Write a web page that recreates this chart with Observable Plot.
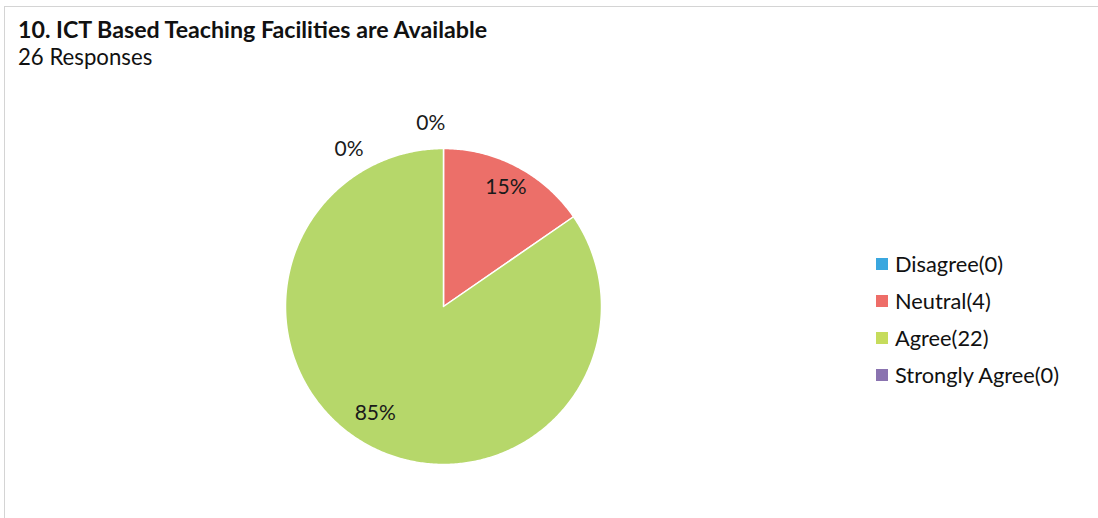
<!DOCTYPE html>
<html>
<head>
<meta charset="utf-8">
<script src="https://cdn.jsdelivr.net/npm/d3@7"></script>
<script src="https://cdn.jsdelivr.net/npm/@observablehq/plot@0.6"></script>
<style>
  html, body { margin: 0; padding: 0; background: #fff; }
  body { width: 1098px; height: 518px; position: relative; overflow: hidden; font-family: Lato, "Open Sans", sans-serif; color: #111; }
  #frame { position: absolute; left: 4px; top: 6px; right: 0; bottom: 0; border-top: 1px solid #d4d4d4; border-left: 1px solid #d4d4d4; }
  #head { position: absolute; left: 18px; top: 16px; }
  #title { font-weight: 700; font-size: 23.2px; line-height: 27px; }
  #sub { font-size: 22.2px; line-height: 27px; }
  #chart { position: absolute; left: 0; top: 70px; }
  #legend { position: absolute; left: 876px; top: 245px; font-size: 21.8px; }
  .item { display: flex; align-items: center; height: 37px; }
  .sw { width: 12px; height: 12px; margin-right: 7px; }
</style>
</head>
<body>
<div id="frame"></div>
<div id="head">
  <div id="title">10. ICT Based Teaching Facilities are Available</div>
  <div id="sub">26 Responses</div>
</div>
<div id="chart"></div>
<div id="legend"></div>
<script>
const categories = ["Disagree", "Neutral", "Agree", "Strongly Agree"];
const counts = [0, 4, 22, 0];
const sliceColors = ["#3aa7df", "#ec6f69", "#b6d76a", "#8a73b0"];
const legendColors = ["#3aa7df", "#ee6d68", "#c6dc5c", "#8a73b0"];

const total = d3.sum(counts);
const arcs = d3.pie().sort(null).value(d => d)(counts);

// polygon vertices for each slice (unit circle, angle clockwise from north)
const polys = [];
arcs.forEach((a, i) => {
  if (a.value <= 0) return;
  const cat = categories[i];
  polys.push({cat, x: 0, y: 0});
  const n = Math.max(2, Math.ceil((a.endAngle - a.startAngle) / 0.01));
  for (let k = 0; k <= n; k++) {
    const t = a.startAngle + (a.endAngle - a.startAngle) * k / n;
    polys.push({cat, x: Math.sin(t), y: Math.cos(t)});
  }
  polys.push({cat, x: 0, y: 0});
});

// labels
let zeroCount = 0;
const labels = arcs.map((a, i) => {
  const pct = Math.round(counts[i] / total * 100) + "%";
  let ang, r;
  if (a.value > 0) {
    ang = (a.startAngle + a.endAngle) / 2;
    // large slices: Excel best-fit pulls the label a little inward/clockwise
    if (a.endAngle - a.startAngle > Math.PI) { ang += 5 * Math.PI / 180; r = 0.8; } else r = 0.85;
  } else {
    ang = a.startAngle - (4 + 27 * zeroCount) * Math.PI / 180; r = 1.16; zeroCount++;
  }
  return {label: pct, x: r * Math.sin(ang), y: r * Math.cos(ang)};
});

const R = 158, cx = 443, cy = 236, W = 1098, H = 448;
const plot = Plot.plot({
  width: W, height: H,
  marginLeft: cx - R, marginRight: W - (cx + R),
  marginTop: cy - R, marginBottom: H - (cy + R),
  x: {domain: [-1, 1], axis: null},
  y: {domain: [-1, 1], axis: null},
  color: {domain: categories, range: sliceColors},
  marks: [
    Plot.line(polys, {x: "x", y: "y", z: "cat", fill: "cat", stroke: "#fff", strokeWidth: 1.5, curve: "linear"}),
    Plot.text(labels, {x: "x", y: "y", text: "label", fontSize: 21, fill: "#1a1a1a", fontFamily: "Lato, sans-serif"})
  ]
});
document.getElementById("chart").appendChild(plot);

const leg = document.getElementById("legend");
categories.forEach((c, i) => {
  const item = document.createElement("div");
  item.className = "item";
  item.innerHTML = `<span class="sw" style="background:${legendColors[i]}"></span><span>${c}(${counts[i]})</span>`;
  leg.appendChild(item);
});
</script>
</body>
</html>
